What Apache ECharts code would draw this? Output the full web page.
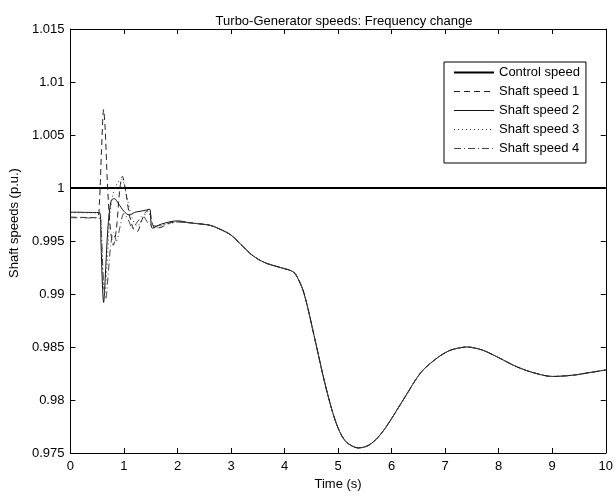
<!DOCTYPE html>
<html>
<head>
<meta charset="utf-8">
<script src="https://cdn.jsdelivr.net/npm/echarts@6/dist/echarts.min.js"></script>
<style>
html,body{margin:0;padding:0;background:#fff;}
#chart{width:616px;height:496px;}
</style>
</head>
<body>
<div id="chart"></div>
<script>
// ---- data ----
var seriesNames = ['Control speed', 'Shaft speed 1', 'Shaft speed 2', 'Shaft speed 3', 'Shaft speed 4'];
var controlTime = [0, 10];
var controlSpeed = [1, 1];

var time1 = [0, 0.3, 0.5, 0.54, 0.58, 0.62, 0.65, 0.69, 0.74, 0.8, 0.86, 0.92, 0.97, 1.03, 1.1, 1.18, 1.25, 1.32, 1.4, 1.47, 1.52, 1.58, 1.7, 1.85, 2.0];
var speed1 = [0.99725, 0.99722, 0.9972, 0.9985, 1.0035, 1.0074, 1.0055, 1.0005, 0.9965, 0.9946, 0.9962, 0.9998, 1.0011, 0.9998, 0.9975, 0.9961, 0.9959, 0.9968, 0.9977, 0.9980, 0.9968, 0.9962, 0.9963, 0.9967, 0.9968];

var time2 = [0, 0.3, 0.55, 0.57, 0.6, 0.62, 0.65, 0.7, 0.76, 0.82, 0.9, 1.0, 1.1, 1.2, 1.3, 1.4, 1.48, 1.53, 1.7, 2.0];
var speed2 = [0.99772, 0.9977, 0.99765, 0.9950, 0.9905, 0.9892, 0.9915, 0.9962, 0.9988, 0.9990, 0.9985, 0.9978, 0.99745, 0.9977, 0.9978, 0.9979, 0.9980, 0.9962, 0.9966, 0.9969];

var time3 = [0, 0.3, 0.55, 0.58, 0.61, 0.64, 0.68, 0.74, 0.8, 0.88, 0.96, 1.05, 1.15, 1.25, 1.35, 1.45, 1.52, 1.6, 1.75, 1.9, 2.0];
var speed3 = [0.99768, 0.99766, 0.9976, 0.9960, 0.9915, 0.9900, 0.9925, 0.9975, 0.9995, 1.0005, 1.0008, 0.9992, 0.9972, 0.9964, 0.9972, 0.9978, 0.9968, 0.9963, 0.9965, 0.9967, 0.9968];

var time4 = [0, 0.3, 0.55, 0.58, 0.62, 0.66, 0.7, 0.75, 0.8, 0.86, 0.92, 1.0, 1.08, 1.16, 1.25, 1.35, 1.45, 1.55, 1.7, 1.85, 2.0];
var speed4 = [0.9972, 0.99718, 0.99715, 0.9955, 0.9910, 0.9895, 0.9915, 0.9945, 0.9958, 0.9950, 0.9962, 0.9976, 0.9970, 0.9962, 0.9968, 0.9974, 0.9967, 0.9964, 0.9965, 0.9967, 0.9968];

// common response once all shaft speeds coincide
var tailTime = [2.24, 2.6, 2.8, 3.0, 3.2, 3.35, 3.5, 3.65, 3.85, 4.02, 4.12, 4.21, 4.36, 4.55, 4.76, 4.95, 5.13, 5.38, 5.56, 5.75, 5.93, 6.24, 6.55, 6.86, 7.1, 7.41, 7.7, 7.97, 8.3, 8.6, 9.0, 9.4, 9.69, 10];
var tailSpeed = [0.99671, 0.99649, 0.9961, 0.99556, 0.9946, 0.99385, 0.9933, 0.99292, 0.9926, 0.99236, 0.9922, 0.99184, 0.99012, 0.98609, 0.98144, 0.97802, 0.97616, 0.97548, 0.9757, 0.9765, 0.97771, 0.9802, 0.98262, 0.984, 0.9847, 0.985, 0.9847, 0.98407, 0.98322, 0.98265, 0.98222, 0.98235, 0.98258, 0.98283];

var xTicks = [0, 1, 2, 3, 4, 5, 6, 7, 8, 9, 10];
var yTickLabels = ['0.975', '0.98', '0.985', '0.99', '0.995', '1', '1.005', '1.01', '1.015'];

function pairs(t, v) {
  var out = [];
  for (var i = 0; i < t.length; i++) out.push([t[i], v[i]]);
  return out;
}
function withTail(t, v) {
  return pairs(t.concat(tailTime), v.concat(tailSpeed));
}

var FONT = '"Liberation Sans", Arial, Helvetica, sans-serif';
var chart = echarts.init(document.getElementById('chart'), null, {renderer: 'canvas'});

function yFmt(v) {
  var idx = Math.round((v - 0.975) / 0.005);
  return yTickLabels[idx] !== undefined ? yTickLabels[idx] : '';
}

var axisCommonX = {
  type: 'value', min: xTicks[0], max: xTicks[xTicks.length - 1], interval: 1,
  axisLine: {show: true, onZero: false, lineStyle: {color: '#000', width: 1}},
  axisTick: {show: true, inside: true, length: 5, lineStyle: {color: '#000'}},
  splitLine: {show: false}
};
var axisCommonY = {
  type: 'value', min: 0.975, max: 1.015, interval: 0.005,
  axisLine: {show: true, onZero: false, lineStyle: {color: '#000', width: 1}},
  axisTick: {show: true, inside: true, length: 5, lineStyle: {color: '#000'}},
  splitLine: {show: false}
};

var styles = [
  {color: '#000', width: 2, type: 'solid'},
  {color: '#222', width: 1, type: [6, 4]},
  {color: '#111', width: 1, type: 'solid'},
  {color: '#333', width: 1, type: [1, 3]},
  {color: '#444', width: 1, type: [7, 3, 1, 3]}
];

function lineSeries(i, data, smooth) {
  var s = styles[i];
  return {
    name: seriesNames[i], type: 'line', data: data, xAxisIndex: 0, yAxisIndex: 0,
    showSymbol: false, symbol: 'none', smooth: smooth,
    lineStyle: {color: s.color, width: s.width, type: s.type},
    itemStyle: {color: s.color},
    emphasis: {disabled: true}
  };
}

var legendData = seriesNames.map(function (n, i) {
  return {name: n, lineStyle: {width: styles[i].width, color: styles[i].color, type: styles[i].type}, itemStyle: {opacity: 0}};
});

var option = {
  animation: false,
  backgroundColor: '#fff',
  title: {
    text: 'Turbo-Generator speeds: Frequency change',
    left: 339, top: 10, textAlign: 'center',
    textStyle: {fontFamily: FONT, fontSize: 13, fontWeight: 'normal', color: '#000'}
  },
  grid: {left: 69, right: 6, top: 29, bottom: 37, containLabel: false},
  legend: {
    orient: 'vertical', left: 444, top: 62,
    data: legendData,
    itemWidth: 40, itemHeight: 14, itemGap: 6,
    padding: [4, 6, 8, 9],
    borderColor: '#000', borderWidth: 1, backgroundColor: '#fff',
    itemStyle: {opacity: 0},
    textStyle: {fontFamily: FONT, fontSize: 13, color: '#000'},
    selectedMode: false
  },
  xAxis: [
    Object.assign({}, axisCommonX, {
      position: 'bottom',
      name: 'Time (s)', nameLocation: 'middle', nameGap: 25,
      nameTextStyle: {fontFamily: FONT, fontSize: 13, color: '#000'},
      axisLabel: {show: true, margin: 7, fontFamily: FONT, fontSize: 13, color: '#000'}
    }),
    Object.assign({}, axisCommonX, {
      position: 'top', axisLabel: {show: false}
    })
  ],
  yAxis: [
    Object.assign({}, axisCommonY, {
      position: 'left',
      name: 'Shaft speeds (p.u.)', nameLocation: 'middle', nameGap: 46,
      nameTextStyle: {fontFamily: FONT, fontSize: 13, color: '#000', padding: [0, 0, 0, 36]},
      axisLabel: {show: true, margin: 6, fontFamily: FONT, fontSize: 13, color: '#000', formatter: yFmt}
    }),
    Object.assign({}, axisCommonY, {
      position: 'right', axisLabel: {show: false}
    })
  ],
  series: [
    lineSeries(0, pairs(controlTime, controlSpeed), false),
    lineSeries(1, withTail(time1, speed1), 0.3),
    lineSeries(2, withTail(time2, speed2), 0.3),
    lineSeries(3, withTail(time3, speed3), 0.3),
    lineSeries(4, withTail(time4, speed4), 0.3)
  ]
};
chart.setOption(option);
</script>
</body>
</html>
